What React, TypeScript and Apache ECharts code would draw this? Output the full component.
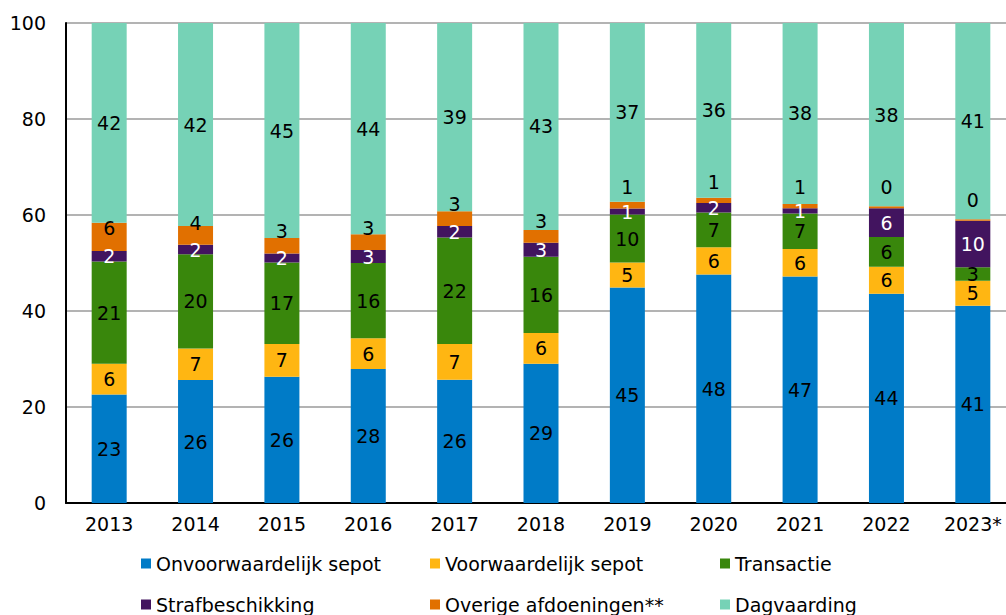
import React, { useEffect, useRef } from "react";
import * as echarts from "echarts";

const categories = ["2013", "2014", "2015", "2016", "2017", "2018", "2019", "2020", "2021", "2022", "2023*"];
const onvoorwaardelijkSepot = [22.6, 25.6, 26.3, 27.9, 25.7, 29.0, 44.9, 47.6, 47.2, 43.6, 41.1];
const voorwaardelijkSepot = [6.4, 6.6, 6.8, 6.4, 7.4, 6.4, 5.2, 5.7, 5.7, 5.6, 5.2];
const transactie = [21.3, 19.6, 17.0, 15.7, 22.2, 15.9, 10.0, 7.2, 7.4, 6.2, 2.8];
const strafbeschikking = [2.2, 2.0, 1.9, 2.7, 2.4, 2.9, 1.25, 2.0, 1.1, 6.0, 9.7];
const overigeAfdoeningen = [5.9, 3.9, 3.2, 3.3, 3.1, 2.7, 1.4, 1.1, 0.9, 0.4, 0.3];
const dagvaarding = [41.6, 42.3, 44.8, 44.0, 39.2, 43.1, 37.25, 36.4, 37.7, 38.2, 40.9];
const yTicks = [0, 20, 40, 60, 80, 100];

const seriesNames = [
  "Onvoorwaardelijk sepot",
  "Voorwaardelijk sepot",
  "Transactie",
  "Strafbeschikking",
  "Overige afdoeningen**",
  "Dagvaarding",
];
const seriesData = [
  onvoorwaardelijkSepot,
  voorwaardelijkSepot,
  transactie,
  strafbeschikking,
  overigeAfdoeningen,
  dagvaarding,
];
const colors = ["#007BC7", "#FFB612", "#39870C", "#42145F", "#E17000", "#76D2B6"];
const labelColors = ["#000", "#000", "#000", "#fff", "#000", "#000"];

const FONT = "DejaVu Sans";
const legendLefts = [141, 430, 720];
const legendTops = [554, 595];

export default function App() {
  const ref = useRef<HTMLDivElement>(null);
  useEffect(() => {
    if (!ref.current) return;
    const chart = echarts.init(ref.current, null, { renderer: "svg" });
    const series = seriesNames.map((name, i) => {
      const s: any = {
        name,
        type: "bar",
        stack: "total",
        barWidth: 35,
        data: seriesData[i],
        itemStyle: { color: colors[i] },
        label: {
          show: true,
          position: "inside",
          color: labelColors[i],
          fontFamily: FONT,
          fontSize: 19,
          formatter: (p: any) => String(Math.round(p.value)),
        },
      };
      if (i === 4) {
        s.labelLayout = (params: any) => ({
          dy: -21 + params.rect.height * 0.44,
        });
      }
      return s;
    });
    const legends = seriesNames.map((name, i) => ({
      left: legendLefts[i % 3],
      top: legendTops[Math.floor(i / 3)],
      padding: 0,
      orient: "horizontal",
      icon: "rect",
      itemWidth: 10,
      itemHeight: 10,
      selectedMode: false,
      data: [name],
      textStyle: { fontFamily: FONT, fontSize: 19, color: "#000" },
    }));
    chart.setOption({
      animation: false,
      color: colors,
      textStyle: { fontFamily: FONT },
      grid: { left: 66, right: 2, top: 23, bottom: 112, containLabel: false },
      legend: legends,
      xAxis: {
        type: "category",
        data: categories,
        axisLine: { lineStyle: { color: "#000", width: 2 } },
        axisTick: { show: false },
        axisLabel: { color: "#000", fontSize: 19, fontFamily: FONT, margin: 11, interval: 0 },
      },
      yAxis: {
        type: "value",
        min: yTicks[0],
        max: yTicks[yTicks.length - 1],
        interval: 20,
        axisLine: { show: true, lineStyle: { color: "#000", width: 2 } },
        axisTick: { show: false },
        axisLabel: { color: "#000", fontSize: 19, fontFamily: FONT, margin: 20 },
        splitLine: { lineStyle: { color: "#b3b3b3", width: 2 } },
      },
      series,
    });
    return () => chart.dispose();
  }, []);
  return (
    <div
      ref={ref}
      style={{ position: "fixed", left: 0, top: 0, width: 1018, height: 615, background: "#fff" }}
    />
  );
}
